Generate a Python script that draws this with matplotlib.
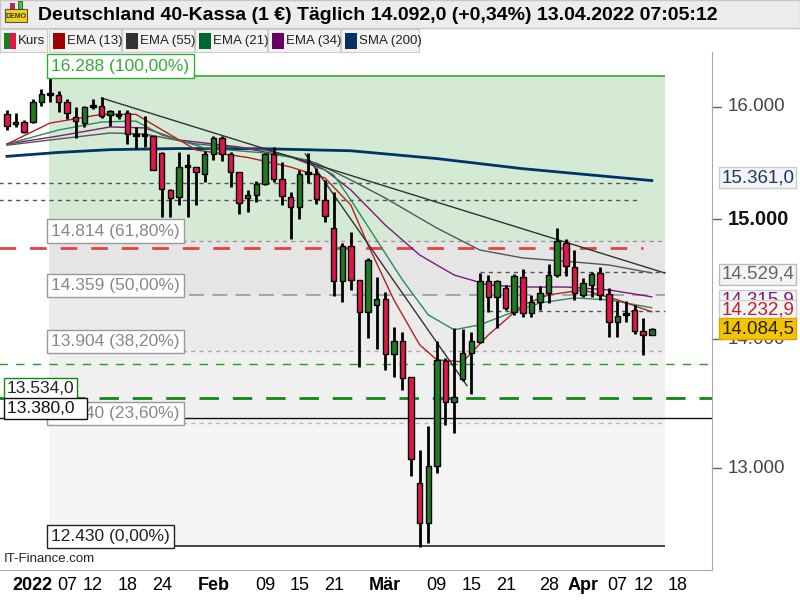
import numpy as np
import pandas as pd
import matplotlib
matplotlib.use("Agg")
import matplotlib.pyplot as plt
from matplotlib.patches import Rectangle
from matplotlib.ticker import NullLocator

plt.rcParams["font.family"] = ["Liberation Sans", "DejaVu Sans"]

# --- data ---
dates = pd.bdate_range("2021-12-29", "2022-04-13")
opens = [15933, 15842, 15860, 15860, 16043, 16117, 16108, 16043, 15906, 15851,
         16006, 16006, 15924, 15924, 15942, 15742, 15742, 15733, 15580, 15252,
         15191, 15464, 15455, 15393, 15571, 15715, 15571, 15410, 15182, 15208,
         15305, 15571, 15349, 15191, 15104, 15402, 15393, 15165, 14922, 14476,
         14768, 14484, 14221, 14278, 14327, 13882, 13986, 13700, 12891, 12598,
         13018, 13826, 13505, 13684, 13890, 13978, 14476, 14344, 14417, 14221,
         14509, 14213, 14303, 14376, 14525, 14794, 14592, 14360, 14442, 14542,
         14368, 14139, 14204, 14237, 14067, 14034]
highs = [15970, 15942, 15878, 16071, 16164, 16285, 16145, 16071, 15997, 16006,
         16071, 16089, 15970, 15970, 15970, 15815, 15915, 15733, 15589, 15261,
         15589, 15571, 15455, 15598, 15733, 15733, 15589, 15410, 15252, 15331,
         15580, 15634, 15499, 15235, 15428, 15580, 15446, 15340, 15235, 14794,
         14888, 14484, 14668, 14509, 14384, 14099, 14058, 13700, 13138, 13320,
         13986, 13850, 14091, 14083, 14058, 14542, 14525, 14484, 14442, 14534,
         14576, 14360, 14434, 14617, 14922, 14828, 14735, 14500, 14551, 14592,
         14417, 14311, 14311, 14278, 14172, 14091]
lows = [15787, 15815, 15760, 15851, 16006, 16043, 15952, 15887, 15715, 15815,
        15979, 15896, 15824, 15887, 15661, 15616, 15634, 15428, 15017, 15017,
        15121, 15017, 15121, 15322, 15517, 15508, 15279, 15043, 15061, 15147,
        15296, 15322, 15121, 14828, 14999, 15313, 15130, 14974, 14352, 14303,
        14401, 13779, 14010, 13922, 13755, 13700, 13598, 12943, 12420, 12455,
        12965, 13328, 13266, 13668, 13567, 13970, 14221, 14091, 14237, 14196,
        14180, 14180, 14237, 14294, 14509, 14517, 14319, 14344, 14344, 14319,
        14018, 14018, 14139, 14042, 13874, 14034]
closes = [15824, 15860, 15769, 16043, 16117, 16117, 16043, 15942, 15869, 15997,
          16006, 15915, 15961, 15924, 15751, 15742, 15742, 15428, 15261, 15182,
          15455, 15464, 15410, 15571, 15715, 15571, 15410, 15139, 15208, 15305,
          15571, 15349, 15200, 15104, 15393, 15402, 15173, 15026, 14476, 14768,
          14484, 14221, 14651, 14327, 13882, 13986, 13692, 13070, 12598, 13018,
          13834, 13505, 13544, 13890, 13986, 14476, 14344, 14476, 14254, 14517,
          14213, 14303, 14376, 14525, 14811, 14600, 14376, 14459, 14534, 14360,
          14139, 14188, 14204, 14067, 14034, 14085]

sma200_x = [0, 6, 12, 20, 30, 40, 50, 60, 70, 75]
sma200_y = [15550, 15585, 15610, 15620, 15618, 15600, 15530, 15440, 15370, 15335]
ema13_x = [0, 5, 11, 15, 18, 22, 28, 33, 37, 40, 42, 45, 48, 50, 53, 56, 60, 63, 67, 71, 75]
ema13_y = [15660, 15850, 15930, 15930, 15790, 15607, 15540, 15455, 15357, 15120, 14777,
           14319, 13954, 13834, 13818, 14034, 14278, 14360, 14401, 14319, 14221]
ema21_x = [0, 6, 11, 15, 18, 23, 30, 35, 38, 40, 43, 46, 49, 52, 55, 58, 62, 66, 70, 75]
ema21_y = [15660, 15787, 15860, 15869, 15742, 15625, 15580, 15517, 15384, 15165, 14820,
           14484, 14196, 14075, 14115, 14196, 14294, 14335, 14319, 14254]
ema34_x = [0, 6, 12, 16, 20, 27, 33, 37, 40, 44, 48, 52, 56, 60, 65, 70, 75]
ema34_y = [15660, 15733, 15815, 15806, 15697, 15634, 15544, 15428, 15252, 14948, 14693,
           14525, 14442, 14425, 14425, 14401, 14344]
ema55_x = [0, 6, 12, 16, 22, 30, 36, 40, 44, 50, 55, 60, 66, 70, 75]
ema55_y = [15650, 15706, 15760, 15751, 15661, 15607, 15490, 15340, 15182, 14922, 14735,
           14668, 14634, 14609, 14542]

fib_levels = [16288, 14814, 14359, 13904, 13340, 12430]
fib_labels = ["16.288 (100,00%)", "14.814 (61,80%)", "14.359 (50,00%)",
              "13.904 (38,20%)", "13.340 (23,60%)", "12.430 (0,00%)"]
fib_fills = ["#d5ead5", "#e5e5e5", "#ebebeb", "#f0f0f0", "#f5f5f5"]

tick_idx = [3, 7, 10, 14, 18, 24, 30, 34, 38, 44, 50, 54, 58, 63, 67, 71, 74, 78]
tick_lab = ["2022", "07", "12", "18", "24", "Feb", "09", "15", "21", "Mär",
            "09", "15", "21", "28", "Apr", "07", "12", "18"]
bold_ticks = {"2022", "Feb", "Mär", "Apr"}

RED = "#e0184a"
GREEN = "#1e7b1e"

fig = plt.figure(figsize=(8, 6), dpi=100)
fig.patch.set_facecolor("white")

# header bar
fig.patches.append(Rectangle((0, 572 / 600), 1, 28 / 600, transform=fig.transFigure,
                             facecolor="#ececec", edgecolor="#c8c8c8", zorder=0))
fig.text(0.048, 585 / 600, "Deutschland 40-Kassa (1 €) Täglich 14.092,0 (+0,34%) 13.04.2022 07:05:12",
         fontsize=14, fontweight="bold", va="center", ha="left")
fig.patches.append(Rectangle((0.006, 578 / 600), 0.028, 13 / 600, transform=fig.transFigure,
                             facecolor="#f2d21b", edgecolor="#555555", lw=0.8))
fig.patches.append(Rectangle((0.012, 591 / 600), 0.006, 6 / 600, transform=fig.transFigure,
                             facecolor=RED, edgecolor="#333333", lw=0.5))
fig.patches.append(Rectangle((0.022, 591 / 600), 0.006, 8 / 600, transform=fig.transFigure,
                             facecolor="#33cc33", edgecolor="#333333", lw=0.5))
fig.text(0.02, 584 / 600, "DEMO", fontsize=5, ha="center", va="center", color="#333333",
         fontweight="bold")

# legend buttons
legend_items = [("Kurs", None, 0, 48), ("EMA (13)", "#a00000", 49, 122), ("EMA (55)", "#333333", 122, 195),
                ("EMA (21)", "#006633", 195, 268), ("EMA (34)", "#660066", 268, 341),
                ("SMA (200)", "#003366", 341, 420)]
for name, col, x0, x1 in legend_items:
    fig.patches.append(Rectangle((x0 / 800, 548 / 600), (x1 - x0 - 1) / 800, 23 / 600,
                                 transform=fig.transFigure, facecolor="#f2f2f2",
                                 edgecolor="#cccccc", lw=0.8, zorder=0.5))
    if col is None:
        fig.patches.append(Rectangle(((x0 + 4) / 800, 551 / 600), 6 / 800, 16 / 600,
                                     transform=fig.transFigure, facecolor=GREEN, lw=0))
        fig.patches.append(Rectangle(((x0 + 10) / 800, 551 / 600), 6 / 800, 16 / 600,
                                     transform=fig.transFigure, facecolor=RED, lw=0))
    else:
        fig.patches.append(Rectangle(((x0 + 4) / 800, 551 / 600), 12 / 800, 16 / 600,
                                     transform=fig.transFigure, facecolor=col, lw=0))
    fig.text((x0 + 18) / 800, 559 / 600, name, fontsize=9.5, va="center", ha="left",
             color="#222222", zorder=5)

ax = fig.add_axes([0, 30 / 600, 712 / 800, 518 / 600])
ax.set_yscale("log")
ax.set_ylim(12260, 16511)
ax.set_xlim(-0.81, 82.0)
ax.yaxis.set_major_locator(NullLocator())
ax.yaxis.set_minor_locator(NullLocator())
for s in ["top", "left"]:
    ax.spines[s].set_visible(False)
ax.spines["right"].set_color("#aaaaaa")
ax.spines["bottom"].set_color("#aaaaaa")

n = len(closes)
xs = np.arange(n)
fx0, fx1 = 4.9, 76.5

# fibonacci zones
for k in range(len(fib_fills)):
    ax.fill_between([fx0, fx1], fib_levels[k + 1], fib_levels[k], color=fib_fills[k], lw=0, zorder=0)
ax.hlines(fib_levels[0], fx0, fx1, color="#33aa33", lw=1.2, zorder=1)
ax.hlines(fib_levels[1], fx0, fx1, color="#999999", lw=1, linestyles=(0, (3, 3)), zorder=1)
ax.hlines(fib_levels[2], fx0, fx1, color="#999999", lw=1.2, linestyles=(0, (9, 5)), zorder=1)
ax.hlines(fib_levels[3], fx0, fx1, color="#aaaaaa", lw=1, linestyles=(0, (3, 3)), zorder=1)
ax.hlines(fib_levels[4], fx0, fx1, color="#bbbbbb", lw=1, linestyles=(0, (3, 3)), zorder=1)
ax.hlines(fib_levels[5], fx0, fx1, color="#222222", lw=1.2, zorder=1)

label_style = dict(fontsize=12.5, ha="left", va="bottom", zorder=6)
ax.text(fx0 + 0.25, fib_levels[0] * 1.0012, fib_labels[0], color="#33aa33",
        bbox=dict(facecolor="white", edgecolor="#33aa33", pad=3), **label_style)
for k in range(1, 6):
    ec = "#222222" if k == 5 else "#999999"
    tc = "#222222" if k == 5 else "#888888"
    ax.text(fx0 + 0.25, fib_levels[k] * 1.0012, fib_labels[k], color=tc,
            bbox=dict(facecolor="white", edgecolor=ec, pad=3), **label_style)

# horizontal lines
ax.hlines([15314, 15165], -1, 73.5, color="#555555", lw=1, linestyles=(0, (3, 3)), zorder=2)
ax.hlines(14752, -1, 74, color="#e84040", lw=2, linestyles=(0, (6, 5)), zorder=2)
ax.hlines([14551, 14229], 55, 76.5, color="#555555", lw=1, linestyles=(0, (3, 3)), zorder=2)
ax.hlines(13803, -1, 82, color="#229922", lw=1, linestyles=(0, (6, 6)), zorder=2)
ax.hlines(13534, -1, 82, color="#118811", lw=2, linestyles=(0, (7, 5)), zorder=2)
ax.hlines(13380, -1, 82, color="#111111", lw=1, zorder=2)
ax.text(0.0, 13534 * 1.001, "13.534,0", fontsize=12.5, ha="left", va="bottom", color="#222222",
        bbox=dict(facecolor="white", edgecolor="#118811", pad=2.0), zorder=7)
ax.text(0.0, 13380 * 1.001, "13.380,0  ", fontsize=12.5, ha="left", va="bottom", color="#111111",
        bbox=dict(facecolor="white", edgecolor="#111111", pad=2.0), zorder=7)

# moving averages
ax.plot(sma200_x, sma200_y, color="#003366", lw=2, zorder=3)
ax.plot(ema55_x, ema55_y, color="#555555", lw=1, zorder=3)
ax.plot(ema34_x, ema34_y, color="#7a1a7a", lw=1, zorder=3)
ax.plot(ema21_x, ema21_y, color="#2a8a5a", lw=1, zorder=3)
ax.plot(ema13_x, ema13_y, color="#b52020", lw=1, zorder=3)

# trend lines
ax.plot([11, 76.5], [16080, 14542], color="#333333", lw=1, zorder=3)
ax.plot([34.7, 53.5], [15571, 13630], color="#333333", lw=1, zorder=3)

# candles
ax.vlines(xs, lows, highs, color="black", lw=2, zorder=4)
for i in range(n):
    o, c = opens[i], closes[i]
    up = c >= o
    lo, hi = min(o, c), max(o, c)
    if hi / lo < 1.0008:
        ax.add_patch(Rectangle((i - 0.32, lo / 1.0004), 0.64, hi * 1.0004 - lo / 1.0004,
                               facecolor="black", edgecolor="black", zorder=5))
        continue
    ax.add_patch(Rectangle((i - 0.32, lo), 0.64, hi - lo, facecolor=GREEN if up else RED,
                           edgecolor="black", lw=1, zorder=5))

# x ticks
ax.set_xticks(tick_idx)
ax.set_xticklabels(tick_lab)
ax.tick_params(axis="x", length=0, labelsize=13, pad=5)
for t in ax.get_xticklabels():
    if t.get_text() in bold_ticks:
        t.set_fontweight("bold")
ax.text(0.005, 0.01, "IT-Finance.com", transform=ax.transAxes, fontsize=9.5, color="#222222",
        ha="left", va="bottom")

# right axis labels
trans = ax.get_yaxis_transform()
for v, lab, bold, size in [(16000, "16.000", False, 13.5), (15000, "15.000", True, 14.5),
                           (14000, "14.000", False, 13.5), (13000, "13.000", False, 13.5)]:
    ax.plot([1.0, 1.012], [v, v], transform=trans, color="#666666", lw=1, clip_on=False)
    ax.text(1.022, v, lab, transform=trans, fontsize=size, ha="left", va="center",
            fontweight="bold" if bold else "normal", color="#111111" if bold else "#444444")

boxes = [(15361, "15.361,0", "#1a3a6a", "#f4f4f4", "#cccccc"),
         (14529.4, "14.529,4", "#666666", "#f4f4f4", "#bbbbbb"),
         (14315.9, "14.315,9", "#7a1a7a", "#f4f4f4", "#cccccc"),
         (14232.9, "14.232,9", "#c02020", "#f4f4f4", "#cccccc"),
         (14084.5, "14.084,5", "#222222", "#f5c400", "#d8a800")]
for v, lab, tc, fc, ec in boxes:
    ax.text(1.013, v, lab, transform=trans, fontsize=13.5, ha="left", va="center", color=tc,
            bbox=dict(facecolor=fc, edgecolor=ec, pad=1.5), zorder=8)

fig.savefig("out.png", dpi=100)
